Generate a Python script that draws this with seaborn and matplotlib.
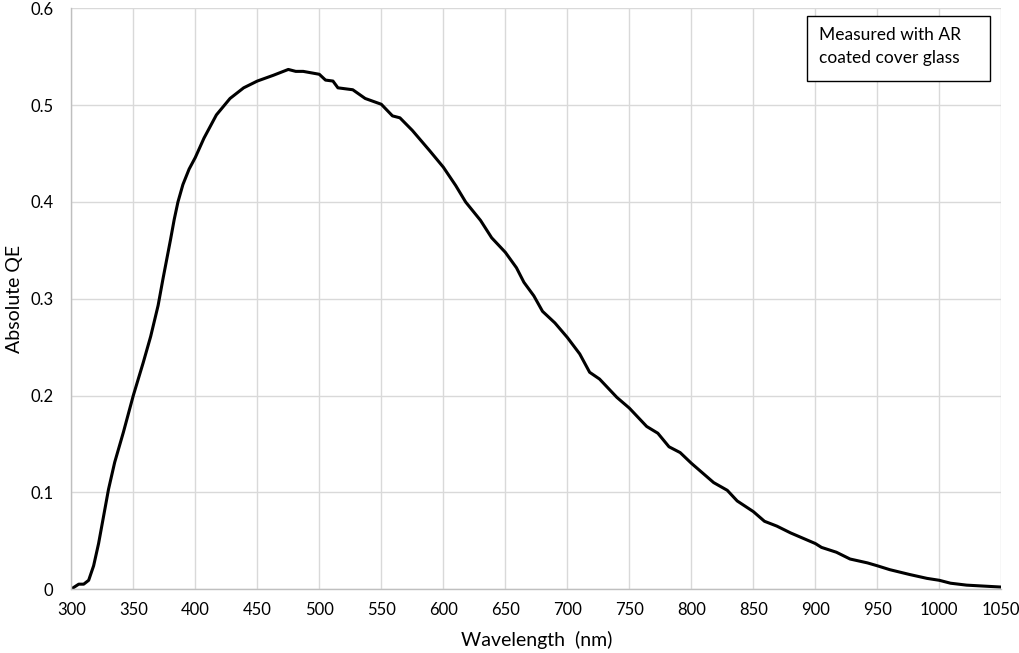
import matplotlib
matplotlib.use("Agg")
import matplotlib.pyplot as plt
from matplotlib.patches import Rectangle
import seaborn as sns
import pandas as pd

wavelength = [300, 306, 310, 314, 318, 322, 326, 330, 335, 342, 350, 358, 364, 370, 374,
              380, 383, 386, 390, 395, 400, 407, 417, 428, 439, 450, 463, 475, 481, 487, 500, 505,
              511, 515, 527, 537, 550, 559, 565, 575, 589, 600, 610, 618, 630, 639, 650,
              659, 665, 673, 680, 690, 700, 710, 718, 726, 740, 750, 764, 773, 782, 791,
              800, 818, 829, 837, 850, 859, 869, 880, 900, 905, 917, 928, 942, 950, 960,
              976, 990, 1000, 1009, 1022, 1050]
qe = [0.000, 0.005, 0.005, 0.009, 0.024, 0.047, 0.075, 0.103, 0.131, 0.162, 0.200, 0.234,
      0.261, 0.293, 0.321, 0.361, 0.382, 0.400, 0.418, 0.434, 0.446, 0.466, 0.490, 0.507,
      0.518, 0.525,
      0.531, 0.537, 0.535, 0.535, 0.532, 0.526, 0.525, 0.518, 0.516, 0.507, 0.501, 0.489,
      0.487, 0.474, 0.453, 0.436, 0.417, 0.400, 0.381, 0.363, 0.348, 0.332, 0.317, 0.303,
      0.287, 0.275, 0.260, 0.243, 0.224, 0.217, 0.198, 0.187, 0.168, 0.161, 0.147, 0.141,
      0.130, 0.110, 0.102, 0.091, 0.080, 0.070, 0.065, 0.058, 0.047, 0.043, 0.038, 0.031,
      0.027, 0.024, 0.020, 0.015, 0.011, 0.009, 0.006, 0.004, 0.002]

x_ticks = [300, 350, 400, 450, 500, 550, 600, 650, 700, 750, 800, 850, 900, 950, 1000, 1050]
y_ticks = [0, 0.1, 0.2, 0.3, 0.4, 0.5, 0.6]
y_tick_labels = ["0", "0.1", "0.2", "0.3", "0.4", "0.5", "0.6"]
x_label = "Wavelength  (nm)"
y_label = "Absolute QE"
note = "Measured with AR\ncoated cover glass"

sns.set_theme(style="whitegrid")
plt.rcParams["font.family"] = ["Lato", "DejaVu Sans"]

df = pd.DataFrame({"Wavelength": wavelength, "QE": qe})

fig = plt.figure(figsize=(10.2, 6.53), dpi=100)
ax = fig.add_axes([0.0699, 0.098, 0.9118, 0.889])
sns.lineplot(data=df, x="Wavelength", y="QE", ax=ax, color="black", linewidth=2.2,
             solid_joinstyle="round", solid_capstyle="round")

ax.set_xlim(300, 1050)
ax.set_ylim(0, 0.6)
ax.set_xticks(x_ticks)
ax.set_xticklabels([str(t) for t in x_ticks])
ax.set_yticks(y_ticks)
ax.set_yticklabels(y_tick_labels)
ax.grid(True, color="#d9d9d9", linewidth=1.0)
ax.tick_params(axis="both", length=0, labelsize=12, colors="black")
ax.tick_params(axis="x", pad=9)
ax.tick_params(axis="y", pad=13)
ax.set_xlabel(x_label, fontsize=14, color="black", labelpad=10)
ax.set_ylabel(y_label, fontsize=14, color="black", labelpad=5)
for side in ["top", "right"]:
    ax.spines[side].set_visible(False)
for side in ["left", "bottom"]:
    ax.spines[side].set_color("#bfbfbf")
    ax.spines[side].set_linewidth(1.0)

ax.add_patch(Rectangle((0.791, 0.875), 0.197, 0.112, transform=ax.transAxes,
                       facecolor="white", edgecolor="black", linewidth=1.0, zorder=5))
ax.text(0.804, 0.968, note, transform=ax.transAxes, fontsize=12.5, color="black",
        va="top", ha="left", linespacing=1.55, zorder=6)

fig.savefig("out.png", dpi=100)
